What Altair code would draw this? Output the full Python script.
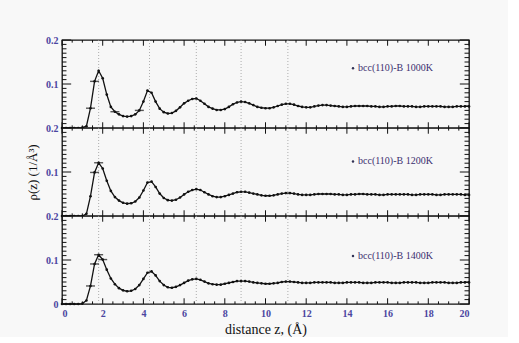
import altair as alt
import pandas as pd

# Density profiles rho(z) sampled every 0.2 A from 0 to 20 A
z = [round(i * 0.2, 1) for i in range(101)]

rho_1000 = [
    0, 0, 0, 0, 0, 0.001,
    0.004, 0.045, 0.106, 0.130, 0.113, 0.076, 0.048, 0.037, 0.031, 0.027,
    0.026, 0.027, 0.031, 0.040, 0.060, 0.085, 0.080, 0.060, 0.044, 0.036,
    0.033, 0.034, 0.039, 0.047, 0.056, 0.062, 0.066, 0.067, 0.062, 0.055,
    0.048, 0.044, 0.041, 0.041, 0.043, 0.048, 0.054, 0.058, 0.060, 0.059,
    0.056, 0.052, 0.048, 0.046, 0.045, 0.045, 0.047, 0.050, 0.053, 0.055,
    0.055, 0.053, 0.050, 0.048, 0.047, 0.047, 0.049, 0.051, 0.052, 0.052,
    0.051, 0.050, 0.049, 0.048, 0.048, 0.049, 0.050, 0.050, 0.050, 0.050,
    0.049, 0.049, 0.048, 0.048, 0.049, 0.049, 0.050, 0.050, 0.049, 0.049,
    0.049, 0.048, 0.048, 0.049, 0.049, 0.049, 0.049, 0.049, 0.048, 0.048,
    0.048, 0.049, 0.049, 0.049, 0.049,
]

rho_1200 = [
    0, 0, 0, 0, 0, 0,
    0.005, 0.045, 0.099, 0.121, 0.108, 0.080, 0.057, 0.043, 0.035, 0.030,
    0.028, 0.029, 0.033, 0.042, 0.058, 0.076, 0.078, 0.066, 0.051, 0.041,
    0.036, 0.035, 0.037, 0.042, 0.049, 0.055, 0.059, 0.061, 0.059, 0.054,
    0.049, 0.045, 0.043, 0.043, 0.045, 0.048, 0.051, 0.054, 0.055, 0.055,
    0.053, 0.051, 0.049, 0.047, 0.046, 0.046, 0.047, 0.049, 0.051, 0.052,
    0.052, 0.051, 0.049, 0.048, 0.048, 0.048, 0.049, 0.050, 0.050, 0.050,
    0.050, 0.049, 0.049, 0.048, 0.048, 0.049, 0.049, 0.050, 0.050, 0.049,
    0.049, 0.049, 0.048, 0.048, 0.049, 0.049, 0.049, 0.049, 0.049, 0.049,
    0.048, 0.048, 0.049, 0.049, 0.049, 0.049, 0.048, 0.048, 0.049, 0.049,
    0.049, 0.049, 0.049, 0.048, 0.048,
]

rho_1400 = [
    0, 0, 0, 0, 0, 0.001,
    0.008, 0.041, 0.091, 0.112, 0.101, 0.078, 0.058, 0.045, 0.036, 0.031,
    0.029, 0.030, 0.034, 0.043, 0.057, 0.071, 0.074, 0.065, 0.052, 0.043,
    0.038, 0.037, 0.039, 0.043, 0.048, 0.053, 0.056, 0.057, 0.055, 0.051,
    0.047, 0.045, 0.044, 0.044, 0.046, 0.048, 0.050, 0.052, 0.052, 0.052,
    0.051, 0.049, 0.048, 0.047, 0.046, 0.046, 0.047, 0.048, 0.050, 0.051,
    0.051, 0.050, 0.049, 0.048, 0.048, 0.048, 0.049, 0.049, 0.049, 0.049,
    0.049, 0.048, 0.048, 0.048, 0.049, 0.049, 0.049, 0.049, 0.048, 0.048,
    0.048, 0.049, 0.049, 0.049, 0.049, 0.048, 0.048, 0.048, 0.049, 0.049,
    0.049, 0.049, 0.048, 0.048, 0.048, 0.049, 0.049, 0.049, 0.049, 0.048,
    0.048, 0.048, 0.049, 0.049, 0.049,
]

# Sample positions that carry an error bar
err_z_1000 = [1.4, 1.6, 2.6, 3.8]
err_z_1200 = [1.6, 1.8]
err_z_1400 = [1.4, 1.6, 1.8, 2.0]

# Layer positions marked by dotted guides
layer_z = [1.8, 4.3, 6.6, 8.8, 11.1]

series_labels = ["bcc(110)-B 1000K", "bcc(110)-B 1200K", "bcc(110)-B 1400K"]
label_y = [0.136, 0.124, 0.109]
label_x = 14.3

x_major = [0, 2, 4, 6, 8, 10, 12, 14, 16, 18, 20]
x_minor_step = 0.5
y_minor_step = 0.01

SERIF = "Liberation Serif"
LABEL_COLOR = "#4b45a0"
W, H = 407, 88

xs = alt.Scale(domain=[0, 20], nice=False, zero=False)
ys = alt.Scale(domain=[0, 0.2], nice=False, zero=False)

# Inward frame ticks, built from the tick spacing
x_ticks = [round(i * x_minor_step, 2) for i in range(41)]
y_ticks = [round(i * y_minor_step, 3) for i in range(21)]
tick_rows = []
for t in x_ticks:
    ln = 0.013 if abs(t % 2) < 1e-9 else 0.006
    tick_rows.append({"x": t, "x2": t, "y": 0, "y2": ln})
    tick_rows.append({"x": t, "x2": t, "y": 0.2, "y2": 0.2 - ln})
for t in y_ticks:
    ln = 0.45 if abs(round(t * 100) % 10) == 0 else 0.22
    tick_rows.append({"x": 0, "x2": ln, "y": t, "y2": t})
    tick_rows.append({"x": 20, "x2": 20 - ln, "y": t, "y2": t})
ticks_df = pd.DataFrame(tick_rows)
guides_df = pd.DataFrame({"z": layer_z})


def panel(rho, err_z, label, ly, bottom=False, ytitle=None):
    df = pd.DataFrame({"z": z, "rho": rho})
    err_df = df[df["z"].isin(err_z)]
    lab_df = pd.DataFrame({"x": [label_x], "y": [ly], "t": [label]})

    if bottom:
        xaxis = alt.Axis(values=x_major, ticks=False, domain=False, grid=False,
                         labelFont=SERIF, labelFontSize=10, labelColor=LABEL_COLOR,
                         labelFontWeight="bold", labelPadding=4,
                         title="distance  z, (Å)", titleFont=SERIF, titleFontSize=14,
                         titleFontWeight="normal", titleColor="#111111", titlePadding=4)
    else:
        xaxis = None
    yvals = [0, 0.1, 0.2] if bottom else [0.1, 0.2]
    yaxis_kw = dict(values=yvals, ticks=False, domain=False, grid=False,
                    labelFont=SERIF, labelFontSize=10, labelColor=LABEL_COLOR,
                    labelFontWeight="bold", labelPadding=4,
                    labelExpr="datum.value == 0 ? '0' : format(datum.value, '.1f')")
    if ytitle:
        yaxis_kw.update(title=ytitle, titleFont=SERIF, titleFontSize=13,
                        titleFontWeight="normal", titleColor="#111111", titlePadding=6)
    else:
        yaxis_kw.update(title=None)
    yaxis = alt.Axis(**yaxis_kw)

    guides = alt.Chart(guides_df).mark_rule(color="#9a9a9a", strokeDash=[1, 2],
                                            strokeWidth=0.8).encode(
        x=alt.X("z:Q", scale=xs, axis=xaxis),
    )
    frame_ticks = alt.Chart(ticks_df).mark_rule(color="#111111", strokeWidth=1).encode(
        x=alt.X("x:Q", scale=xs), x2="x2:Q",
        y=alt.Y("y:Q", scale=ys, axis=yaxis), y2="y2:Q",
    )
    line = alt.Chart(df).mark_line(color="#111111", strokeWidth=1.3).encode(
        x=alt.X("z:Q", scale=xs), y=alt.Y("rho:Q", scale=ys)
    )
    pts = alt.Chart(df).mark_point(filled=True, color="#111111", size=7, opacity=1).encode(
        x=alt.X("z:Q", scale=xs), y=alt.Y("rho:Q", scale=ys)
    )
    errs = alt.Chart(err_df).mark_tick(orient="horizontal", color="#111111", size=9,
                                       thickness=1.4).encode(
        x=alt.X("z:Q", scale=xs), y=alt.Y("rho:Q", scale=ys)
    )
    dot = alt.Chart(lab_df).mark_point(filled=True, color="#333355", size=6, opacity=1).encode(
        x=alt.X("x:Q", scale=xs), y=alt.Y("y:Q", scale=ys)
    )
    txt = alt.Chart(lab_df).mark_text(align="left", baseline="middle", dx=5, font=SERIF,
                                      fontSize=10, color="#3a2f70").encode(
        x=alt.X("x:Q", scale=xs), y=alt.Y("y:Q", scale=ys), text="t:N"
    )
    return alt.layer(guides, frame_ticks, line, pts, errs, dot, txt).properties(width=W, height=H)


chart = alt.vconcat(
    panel(rho_1000, err_z_1000, series_labels[0], label_y[0]),
    panel(rho_1200, err_z_1200, series_labels[1], label_y[1], ytitle="ρ(z) (1/Å³)"),
    panel(rho_1400, err_z_1400, series_labels[2], label_y[2], bottom=True),
    spacing=0,
    bounds="flush",
).properties(
    padding={"left": 25, "top": 34, "right": 35, "bottom": 0},
    background="#f8f8f8",
).configure_view(
    stroke="#111111", strokeWidth=1.3, fill="#f7f7f7"
).configure_concat(spacing=0)

chart.save("out.html", embed_options={"renderer": "svg", "actions": False})
